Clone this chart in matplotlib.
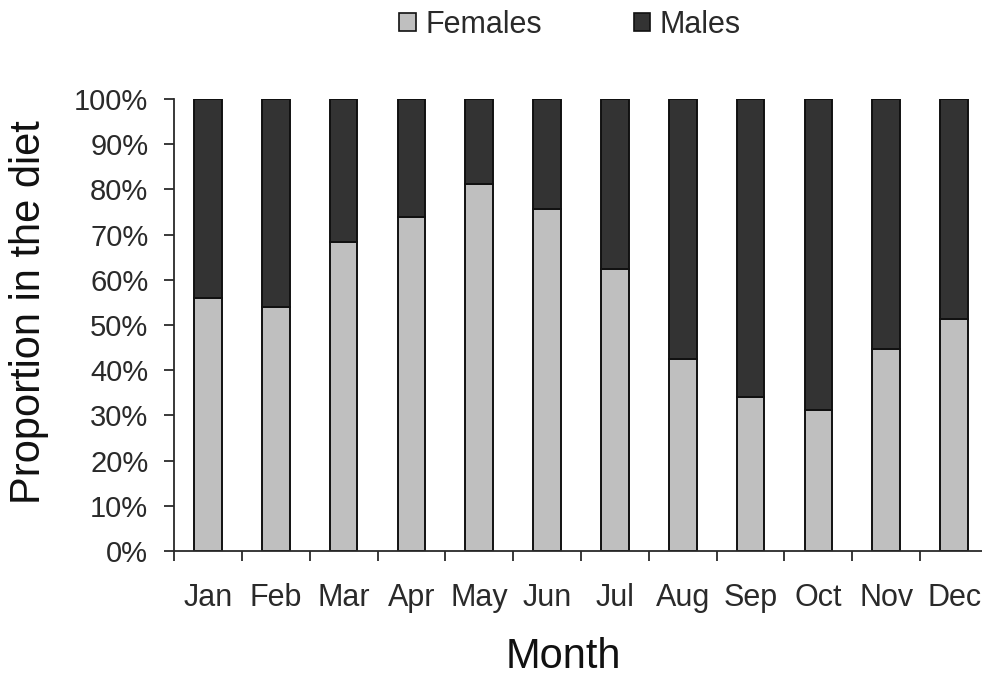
import matplotlib
matplotlib.use("Agg")
import matplotlib.pyplot as plt
import numpy as np
from matplotlib.patches import Patch

months = ["Jan", "Feb", "Mar", "Apr", "May", "Jun",
          "Jul", "Aug", "Sep", "Oct", "Nov", "Dec"]
females = [56, 54, 68.3, 74, 81.2, 75.7, 62.4, 42.4, 34.1, 31.3, 44.8, 51.4]
males = [100 - f for f in females]
y_ticks = [0, 10, 20, 30, 40, 50, 60, 70, 80, 90, 100]

plt.rcParams['font.family'] = ['Liberation Sans', 'DejaVu Sans']

W, H = 982, 677
fig = plt.figure(figsize=(W / 100, H / 100), dpi=100)
ax = fig.add_axes([174 / W, (H - 551) / H, 814 / W, 452 / H])

x = np.arange(len(months))
female_col = "#bfbfbf"
male_col = "#333333"
text_col = "#2a2a2a"
ax.bar(x, females, width=0.41, color=female_col, edgecolor="#111111", linewidth=1.4)
ax.bar(x, males, bottom=females, width=0.41, color=male_col, edgecolor="#111111", linewidth=1.4)

ax.set_xlim(-0.5, len(months) - 0.5)
ax.set_ylim(0, 100)
ax.set_yticks(y_ticks)
ax.set_yticklabels([f"{v}%" for v in y_ticks], fontsize=21, color=text_col)
ax.tick_params(axis="y", direction="out", length=7.5, width=1.3, pad=11, colors=text_col)

ax.set_xticks(x)
ax.set_xticklabels(months, fontsize=22, color=text_col)
ax.tick_params(axis="x", which="major", length=0, pad=23)
ax.set_xticks(np.arange(-0.5, len(months), 1.0), minor=True)
ax.tick_params(axis="x", which="minor", direction="out", length=7.5, width=1.3, colors=text_col)

for s in ["top", "right"]:
    ax.spines[s].set_visible(False)
for s in ["left", "bottom"]:
    ax.spines[s].set_linewidth(1.3)
    ax.spines[s].set_color(text_col)

fig.text(29 / W, 1 - 312 / H, "Proportion in the diet", rotation=90,
         ha="center", va="center", fontsize=30, color="#111111")
fig.text(563 / W, 1 - 657 / H, "Month", ha="center", va="center",
         fontsize=30, color="#111111")

handles = [Patch(facecolor=female_col, edgecolor="#111111", linewidth=1.2, label="Females"),
           Patch(facecolor=male_col, edgecolor="#111111", linewidth=1.2, label="Males")]
fig.legend(handles=handles, loc="center", bbox_to_anchor=(570 / W, 1 - 25 / H), ncol=2,
           frameon=False, fontsize=22, handlelength=0.55, handleheight=0.55,
           handletextpad=0.3, columnspacing=3.0, labelcolor=text_col)

fig.savefig("out.png", dpi=100)
